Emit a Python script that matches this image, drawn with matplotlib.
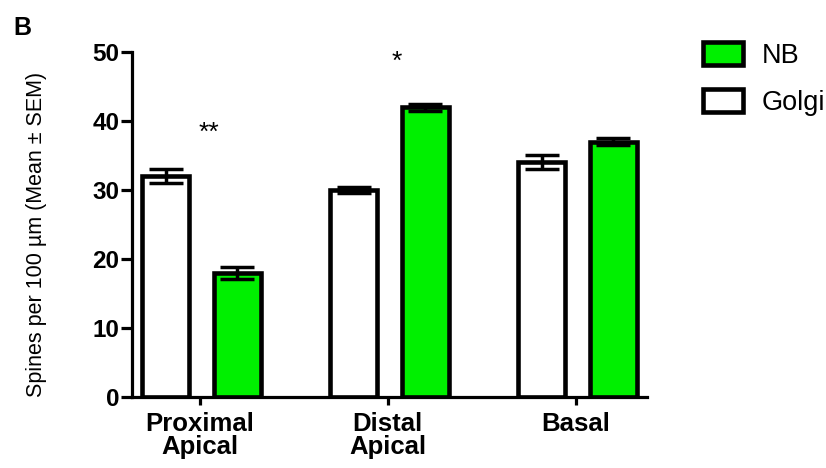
import numpy as np
import matplotlib
matplotlib.use("Agg")
import matplotlib.pyplot as plt
from matplotlib.patches import Patch

plt.rcParams['font.family'] = ['Liberation Sans', 'DejaVu Sans']

categories = ['Proximal\nApical', 'Distal\nApical', 'Basal']
golgi_mean = [32, 30, 34]
golgi_sem = [1.0, 0.5, 1.0]
nb_mean = [18, 42, 37]
nb_sem = [0.9, 0.5, 0.5]
stars = ['**', '*', '']
star_y = [38.3, 48.5, 0]

green = '#00f000'

fig = plt.figure(figsize=(8.26, 4.68), dpi=100)
ax = fig.add_axes([0.1598, 0.1517, 0.6235, 0.7372])

x = np.arange(len(categories))
w = 0.25
off = 0.19

ax.bar(x - off + 0.01, golgi_mean, w, color='white', edgecolor='k', lw=3.3, zorder=2)
ax.bar(x + off + 0.01, nb_mean, w, color=green, edgecolor='k', lw=3.3, zorder=2)
ax.errorbar(x - off + 0.01, golgi_mean, yerr=golgi_sem, fmt='none', ecolor='k',
            elinewidth=2.5, capsize=12.5, capthick=2.5, zorder=3)
ax.errorbar(x + off + 0.01, nb_mean, yerr=nb_sem, fmt='none', ecolor='k',
            elinewidth=2.5, capsize=12.5, capthick=2.5, zorder=3)

for i, s in enumerate(stars):
    if s:
        ax.text(x[i] + 0.05, star_y[i], s, ha='center', va='center', fontsize=19)

ax.set_xlim(-0.36, 2.38)
ax.set_ylim(0, 50)
ax.set_yticks([0, 10, 20, 30, 40, 50])
ax.set_xticks(x)
ax.set_xticklabels(categories, fontsize=18.5, fontweight='bold', linespacing=0.95)
for lab in ax.get_yticklabels():
    lab.set_fontsize(17.5)
    lab.set_fontweight('bold')

ax.spines['right'].set_visible(False)
ax.spines['top'].set_visible(False)
ax.spines['left'].set_linewidth(2.3)
ax.spines['bottom'].set_linewidth(2.3)
ax.tick_params(axis='y', length=8, width=2.3, pad=1)
ax.tick_params(axis='x', length=6, width=2.3, pad=5)

ax.set_ylabel('Spines per 100 µm (Mean ± SEM)', fontsize=15.5)
ax.yaxis.set_label_coords(-0.165, 0.47)

handles = [Patch(facecolor=green, edgecolor='k', lw=3.3, label='NB'),
           Patch(facecolor='white', edgecolor='k', lw=3.3, label='Golgi')]
fig.legend(handles=handles, loc='upper left', bbox_to_anchor=(0.821, 0.962),
           frameon=False, fontsize=19.5, handlelength=1.5, handleheight=0.9,
           handletextpad=0.7, labelspacing=0.75)

fig.text(0.016, 0.925, 'B', fontsize=18, fontweight='bold')

fig.savefig('out.png', dpi=100)
